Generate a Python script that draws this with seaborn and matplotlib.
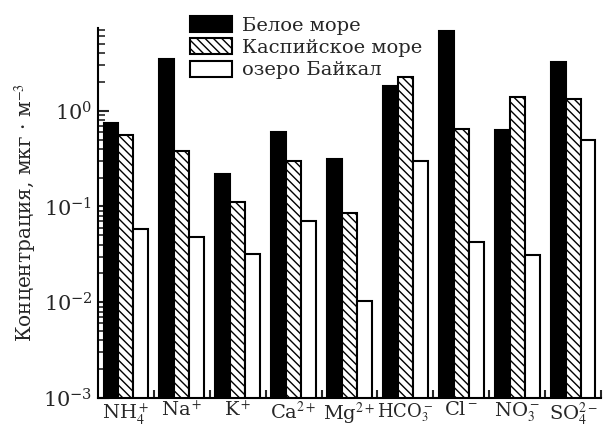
import matplotlib
matplotlib.use("Agg")
import matplotlib.pyplot as plt
import matplotlib.patches as mpatches
from matplotlib.ticker import LogLocator, FixedLocator, NullFormatter
import seaborn as sns
import pandas as pd

ions = ["NH$_4^+$", "Na$^+$", "K$^+$", "Ca$^{2+}$", "Mg$^{2+}$",
        "HCO$_3^-$", "Cl$^-$", "NO$_3^-$", "SO$_4^{2-}$"]
series_names = ["Белое море", "Каспийское море", "озеро Байкал"]
white_sea = [0.75, 3.5, 0.22, 0.60, 0.31, 1.80, 6.8, 0.63, 3.2]
caspian = [0.56, 0.38, 0.11, 0.30, 0.085, 2.25, 0.65, 1.40, 1.33]
baikal = [0.058, 0.048, 0.032, 0.071, 0.0102, 0.30, 0.043, 0.031, 0.49]

sns.set_theme(style="ticks")
plt.rcParams["font.family"] = ["DejaVu Serif"]
plt.rcParams["mathtext.fontset"] = "stix"
plt.rcParams["hatch.linewidth"] = 1.0

rows = []
for name, vals in zip(series_names, [white_sea, caspian, baikal]):
    for ion, v in zip(ions, vals):
        rows.append({"ion": ion, "series": name, "value": v})
df = pd.DataFrame(rows)

fig = plt.figure(figsize=(6.03, 4.28), dpi=100)
ax = fig.add_axes([98/603, 30/428, 503/603, 370/428])
ax.set_yscale("log")
sns.barplot(data=df, x="ion", y="value", hue="series", order=ions,
            hue_order=series_names, palette=["black", "white", "white"],
            edgecolor="black", linewidth=1.5, width=0.8, legend=False,
            errorbar=None, ax=ax)
hatches = [None, "\\\\\\\\", None]
for cont, h in zip(ax.containers, hatches):
    for p in cont:
        p.set_edgecolor("black")
        if h:
            p.set_hatch(h)

ax.set_ylim(1e-3, 7.3)
ax.set_xlim(-0.5, len(ions) - 0.5)
ax.yaxis.set_major_locator(LogLocator(base=10, numticks=10))
ax.yaxis.set_minor_locator(LogLocator(base=10, subs=range(2, 10), numticks=20))
ax.yaxis.set_minor_formatter(NullFormatter())
ax.xaxis.set_minor_locator(FixedLocator([i + 0.5 for i in range(len(ions))]))
ax.tick_params(axis="y", which="major", direction="in", length=8, width=1.5,
               labelsize=15, pad=4)
ax.tick_params(axis="y", which="minor", direction="in", length=5, width=1.2)
ax.tick_params(axis="x", which="major", direction="in", length=6, width=1.5,
               labelsize=14, pad=2)
ax.tick_params(axis="x", which="minor", direction="in", length=6, width=1.5)
for lab in ax.get_xticklabels():
    if "HCO" in lab.get_text():
        lab.set_fontsize(13)
ax.set_xlabel("")
ax.set_ylabel("Концентрация, мкг · м$^{-3}$", fontsize=14.5)
ax.yaxis.set_label_coords(-0.118, 0.5)
for s in ["top", "right"]:
    ax.spines[s].set_visible(False)
for s in ["left", "bottom"]:
    ax.spines[s].set_linewidth(1.5)
    ax.spines[s].set_color("black")

handles = [mpatches.Patch(facecolor="black", edgecolor="black", linewidth=1.5),
           mpatches.Patch(facecolor="white", edgecolor="black", linewidth=1.5, hatch="\\\\\\\\"),
           mpatches.Patch(facecolor="white", edgecolor="black", linewidth=1.5)]
fig.legend(handles, series_names, loc="upper left",
           bbox_to_anchor=(190/603, 1 - 16/428), frameon=False, fontsize=14,
           borderpad=0, borderaxespad=0, labelspacing=0.18, handlelength=2.15,
           handleheight=0.9, handletextpad=0.5)

fig.savefig("out.png", dpi=100)
